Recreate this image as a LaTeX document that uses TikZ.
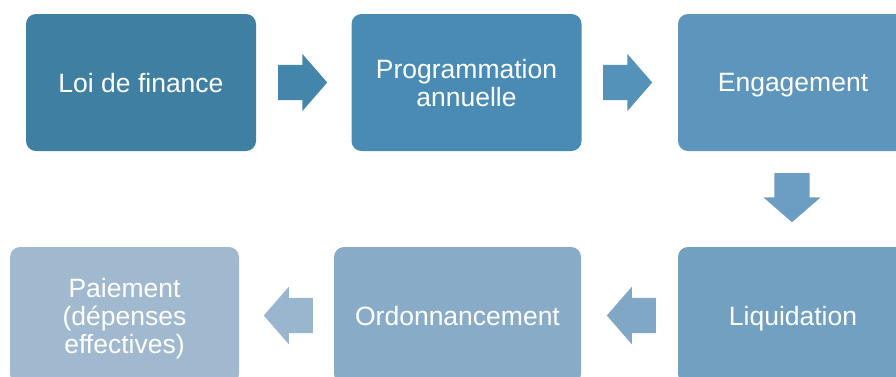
\documentclass[tikz,border=0pt]{standalone}
\usepackage{fontspec}
\setmainfont{Liberation Sans}
\usetikzlibrary{shapes.arrows}

\definecolor{stepA}{HTML}{3F7FA1}
\definecolor{stepB}{HTML}{4A8BB5}
\definecolor{stepC}{HTML}{5D95BC}
\definecolor{stepD}{HTML}{72A0C0}
\definecolor{stepE}{HTML}{88ABC8}
\definecolor{stepF}{HTML}{A0B9CF}
\definecolor{arrA}{HTML}{4385AB}
\definecolor{arrB}{HTML}{5592BA}
\definecolor{arrC}{HTML}{6C9DC2}
\definecolor{arrD}{HTML}{80A7C6}
\definecolor{arrE}{HTML}{9AB6CE}

\tikzset{
  stepbox/.style={rectangle, rounded corners=10pt, inner sep=0pt,
    minimum width=230pt, minimum height=137pt, text=white, align=center,
    text depth=0pt, font=\fontsize{26.5}{28}\selectfont},
  flowarrow/.style={single arrow, draw=none, anchor=tail,
    minimum height=49pt, minimum width=57pt,
    single arrow head extend=11pt, single arrow tip angle=98},
  across/.style={inner xsep=0pt, inner ysep=17.5pt},
  downward/.style={inner xsep=17.5pt, inner ysep=0pt, shape border rotate=270},
}

\begin{document}
\begin{tikzpicture}[x=1pt, y=-1pt]
\useasboundingbox (0,0) rectangle (896,376);
\clip (0,0) rectangle (896,376);

% process steps
\node[stepbox, fill=stepA] (loi)   at (141,82.5)   {Loi de finance};
\node[stepbox, fill=stepB] (prog)  at (466.5,82.5) {Programmation\\annuelle};
\node[stepbox, fill=stepC] (eng)   at (793,82.5)   {Engagement};
\node[stepbox, fill=stepD] (liq)   at (793,315.5)  {Liquidation};
\node[stepbox, fill=stepE, minimum width=247pt] (ord) at (457.5,315.5) {Ordonnancement};
\node[stepbox, fill=stepF, minimum width=229pt] (pai) at (124.5,315.5) {Paiement\\(dépenses\\effectives)};

% block arrows between the steps, placed by their tails
\node[flowarrow, across, fill=arrA] (a1) at (278,82.5) {};
\node[flowarrow, across, fill=arrB] (a2) at (603,82.5) {};
\node[flowarrow, downward, fill=arrC] (a3) at (792,173) {};
\node[flowarrow, across, fill=arrD, shape border rotate=180] (a4) at (656,315.5) {};
\node[flowarrow, across, fill=arrE, shape border rotate=180] (a5) at (313,315.5) {};
\end{tikzpicture}
\end{document}
